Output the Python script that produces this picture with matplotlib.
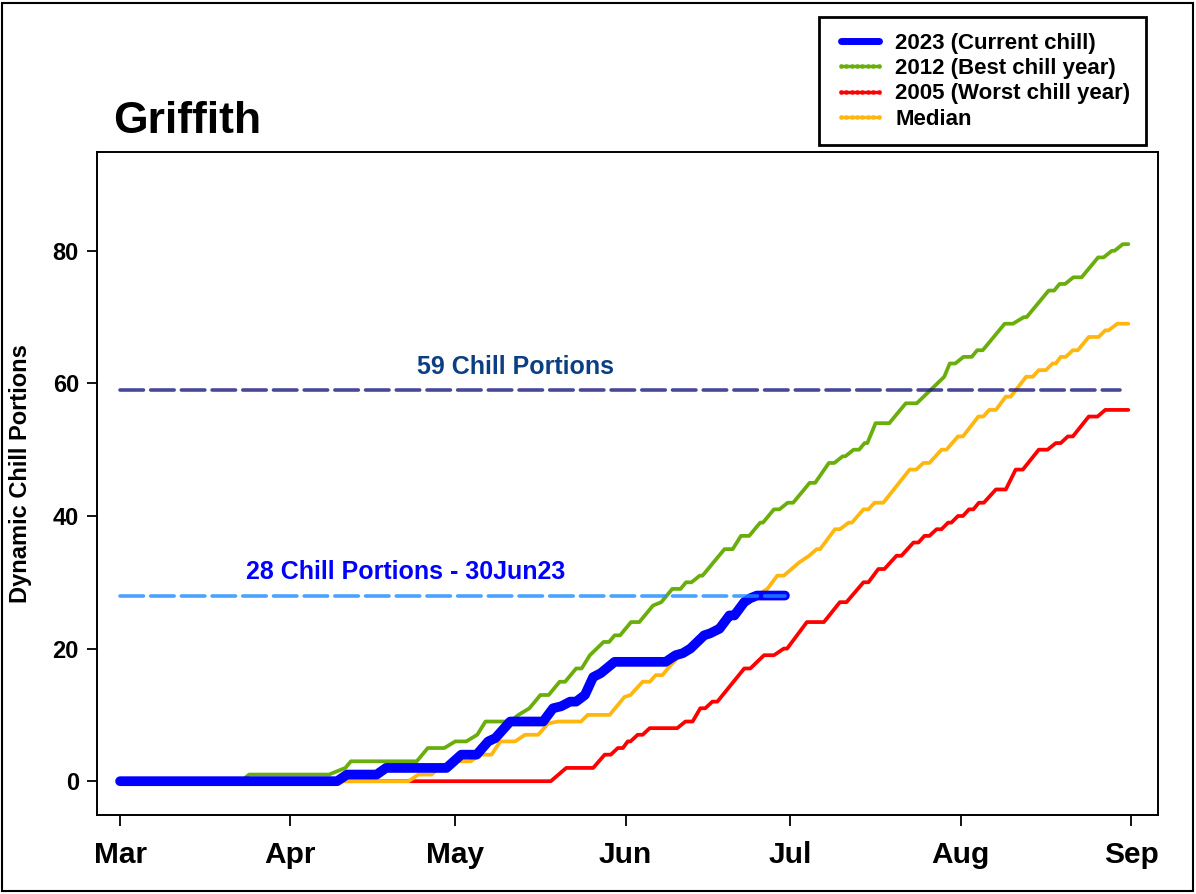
import matplotlib
matplotlib.use('Agg')
import matplotlib.pyplot as plt
from matplotlib.lines import Line2D
from matplotlib.patches import Rectangle

plt.rcParams['font.family'] = ['Liberation Sans', 'DejaVu Sans']

# x axis: days since 1 March
months = ['Mar', 'Apr', 'May', 'Jun', 'Jul', 'Aug', 'Sep']
month_start = [0, 31, 61, 92, 122, 153, 184]
y_ticks = [0, 20, 40, 60, 80]

# (day, chill portions)
current_2023 = [(0, 0), (39.5, 0), (41.3, 1), (46.7, 1), (48.4, 2), (59.4, 2), (62.1, 4), (64.9, 4),
                (67, 6), (68.3, 6.5), (71, 9), (77, 9), (78.8, 11), (80.3, 11.3), (81.9, 12), (83, 12),
                (84.6, 13), (86.1, 15.7), (87.5, 16.3), (90, 18), (99.3, 18), (101.1, 19), (102.4, 19.3),
                (103.8, 20), (106.3, 22), (107.4, 22.3), (109.1, 23), (110.9, 25), (111.8, 25),
                (113.6, 27), (114.7, 27.6), (115.9, 28), (121, 28)]

best_2012 = [(0, 0), (22, 0), (23.5, 1), (38, 1), (41, 2), (42, 3), (54, 3), (56, 5), (59, 5), (61, 6),
             (63, 6), (65, 7), (66.5, 9), (71, 9), (72.5, 10), (74.5, 11), (76.5, 13), (78, 13), (80, 15),
             (81, 15), (83, 17), (84, 17), (85.5, 19), (88, 21), (89, 21), (90, 22), (91, 22), (93, 24),
             (94.5, 24), (97, 26.5), (98.5, 27), (100.5, 29), (102, 29), (103, 30), (104, 30), (105.5, 31),
             (106, 31), (108, 33), (110, 35), (111.5, 35), (113, 37), (114.5, 37), (116.5, 39), (117, 39),
             (119, 41), (120, 41), (121.5, 42), (122.5, 42), (125.5, 45), (126.5, 45), (129, 48), (130, 48),
             (131.5, 49), (132, 49), (133.5, 50), (134.5, 50), (135.5, 51), (136, 51), (137.5, 54), (140, 54),
             (143, 57), (145, 57), (147.5, 59), (150, 61), (151, 63), (152, 63), (153.5, 64), (155, 64),
             (156, 65), (157, 65), (161, 69), (162.5, 69), (164.5, 70), (165, 70), (169, 74), (170, 74),
             (171, 75), (172, 75), (173.5, 76), (175, 76), (178, 79), (179, 79), (180.5, 80), (181, 80),
             (182.5, 81), (183.5, 81)]

worst_2005 = [(0, 0), (78.4, 0), (81.2, 2), (86.1, 2), (88.2, 4), (89.3, 4), (90.6, 5), (91.5, 5), (92.4, 6),
              (92.9, 6), (94.2, 7), (95.1, 7), (96.4, 8), (101.4, 8), (102.9, 9), (104.2, 9), (105.6, 11),
              (106.5, 11), (107.8, 12), (108.7, 12), (113.6, 17), (114.7, 17), (117.2, 19), (119, 19),
              (120.8, 20), (121.4, 20), (125, 24), (128.1, 24), (131, 27), (132.2, 27), (135.3, 30),
              (136.2, 30), (138, 32), (139.1, 32), (141.3, 34), (142.2, 34), (144.4, 36), (145.3, 36),
              (146.4, 37), (147.3, 37), (148.6, 38), (149.5, 38), (150.7, 39), (151.3, 39), (152.5, 40),
              (153.4, 40), (154.5, 41), (155.3, 41), (156.3, 42), (157.2, 42), (159.4, 44), (161.2, 44),
              (163, 47), (164.3, 47), (167.2, 50), (168.8, 50), (170.3, 51), (171.2, 51), (172.5, 52),
              (173.4, 52), (176.3, 55), (177.9, 55), (179.3, 56), (183.5, 56)]

median = [(0, 0), (52.5, 0), (54.3, 1), (56.7, 1), (58, 2), (61, 3), (63.8, 3), (65.6, 4), (67.6, 4),
          (69.2, 6), (71.9, 6), (73.7, 7), (76.1, 7), (77.9, 8.7), (79.7, 9), (83.9, 9), (85.1, 10),
          (89.1, 10), (91.8, 12.7), (92.9, 13), (95.1, 15), (96.4, 15), (97.5, 16), (98.7, 16),
          (100.2, 17.5), (101.4, 18.5), (103.3, 20), (105.1, 21.5), (107.4, 22.5), (109.6, 24),
          (111.4, 25), (113.6, 27), (115.9, 28), (117.8, 29), (119.6, 31), (120.8, 31), (123.6, 33),
          (125.4, 34), (126.8, 35), (127.4, 35), (130.1, 38), (131, 38), (132.6, 39), (133.2, 39),
          (135.3, 41), (136.2, 41), (137.3, 42), (138.9, 42), (141.3, 44.5), (143.7, 47), (144.9, 47),
          (146.2, 48), (147.3, 48), (149.5, 50), (150.4, 50), (152.5, 52), (153.4, 52), (156.2, 55),
          (157.1, 55), (158.2, 56), (159.4, 56), (161.2, 58), (162.1, 58), (164.9, 61), (166.1, 61),
          (167.2, 62), (168.5, 62), (169.7, 63), (170.3, 63), (171.2, 64), (172.1, 64), (173.4, 65),
          (174.3, 65), (176.3, 67), (178.1, 67), (179.3, 68), (179.9, 68), (181.5, 69), (183.5, 69)]

target = 59
current_total = 28
current_day = 121
season_end = 182

green = '#6aae0c'
red = '#ff0000'
orange = '#ffb70f'
blue = '#0000ff'

fig = plt.figure(figsize=(11.96, 8.94), dpi=100)
ax = fig.add_axes([97 / 1196, 1 - 815 / 894, (1158 - 97) / 1196, (815 - 152) / 894])

for pts, col in [(best_2012, green), (worst_2005, red), (median, orange)]:
    x, y = zip(*pts)
    ax.plot(x, y, color=col, lw=2.7, solid_joinstyle='round', solid_capstyle='round', zorder=2)
x, y = zip(*current_2023)
ax.plot(x, y, color=blue, lw=7, solid_joinstyle='round', solid_capstyle='round', zorder=3)

# reference lines
ax.plot([0, season_end], [target, target], color='#1a1a80', lw=2.6, alpha=0.8,
        dashes=(6.5, 2.0), dash_capstyle='round', zorder=4)
ax.plot([0, current_day], [current_total, current_total], color='#1e8cff', lw=2.6, alpha=0.8,
        dashes=(6.5, 2.0), dash_capstyle='round', zorder=4)
ax.text(72, target + 1.7, f'{target} Chill Portions', color='#0c3f82', fontsize=18,
        fontweight='bold', ha='center', va='bottom')
ax.text(52, current_total + 1.7, f'{current_total} Chill Portions - 30Jun23', color=blue,
        fontsize=18, fontweight='bold', ha='center', va='bottom')

ax.set_xlim(-4.2, 188.9)
ax.set_ylim(-5.1, 94.9)
ax.set_xticks(month_start)
ax.set_xticklabels(months, fontsize=21.5, fontweight='bold')
ax.set_yticks(y_ticks)
ax.set_yticklabels([str(v) for v in y_ticks], fontsize=17, fontweight='bold')
ax.tick_params(axis='x', length=8, width=1.3, pad=11)
ax.tick_params(axis='y', length=7, width=1.3, pad=6)
for s in ax.spines.values():
    s.set_linewidth(1.4)

fig.text(113 / 1196, 1 - 133 / 894, 'Griffith', fontsize=32, fontweight='bold', ha='left', va='baseline')
fig.text(21 / 1196, 1 - 474 / 894, 'Dynamic Chill Portions', fontsize=17, fontweight='bold',
         rotation=90, ha='center', va='center')

handles = [Line2D([], [], color=blue, lw=5, solid_capstyle='round'),
           Line2D([], [], color=green, lw=2.5, marker='o', ms=2.2),
           Line2D([], [], color=red, lw=2.5, marker='o', ms=2.2),
           Line2D([], [], color=orange, lw=2.5, marker='o', ms=2.2)]
labels = ['2023 (Current chill)', '2012 (Best chill year)', '2005 (Worst chill year)', 'Median']
leg = fig.legend(handles, labels, loc='upper right', bbox_to_anchor=(1146 / 1196, 1 - 17 / 894),
                 bbox_transform=fig.transFigure, prop={'weight': 'bold', 'size': 16},
                 fancybox=False, edgecolor='black', framealpha=1, handlelength=2.3,
                 handletextpad=0.45, labelspacing=0.2, borderpad=0.7, borderaxespad=0,
                 numpoints=8)
leg.get_frame().set_linewidth(2)

fig.patches.append(Rectangle((2 / 1196, 3 / 894), 1191 / 1196, 888 / 894, transform=fig.transFigure,
                             fill=False, lw=1.5, edgecolor='black'))

fig.savefig('out.png', dpi=100)
